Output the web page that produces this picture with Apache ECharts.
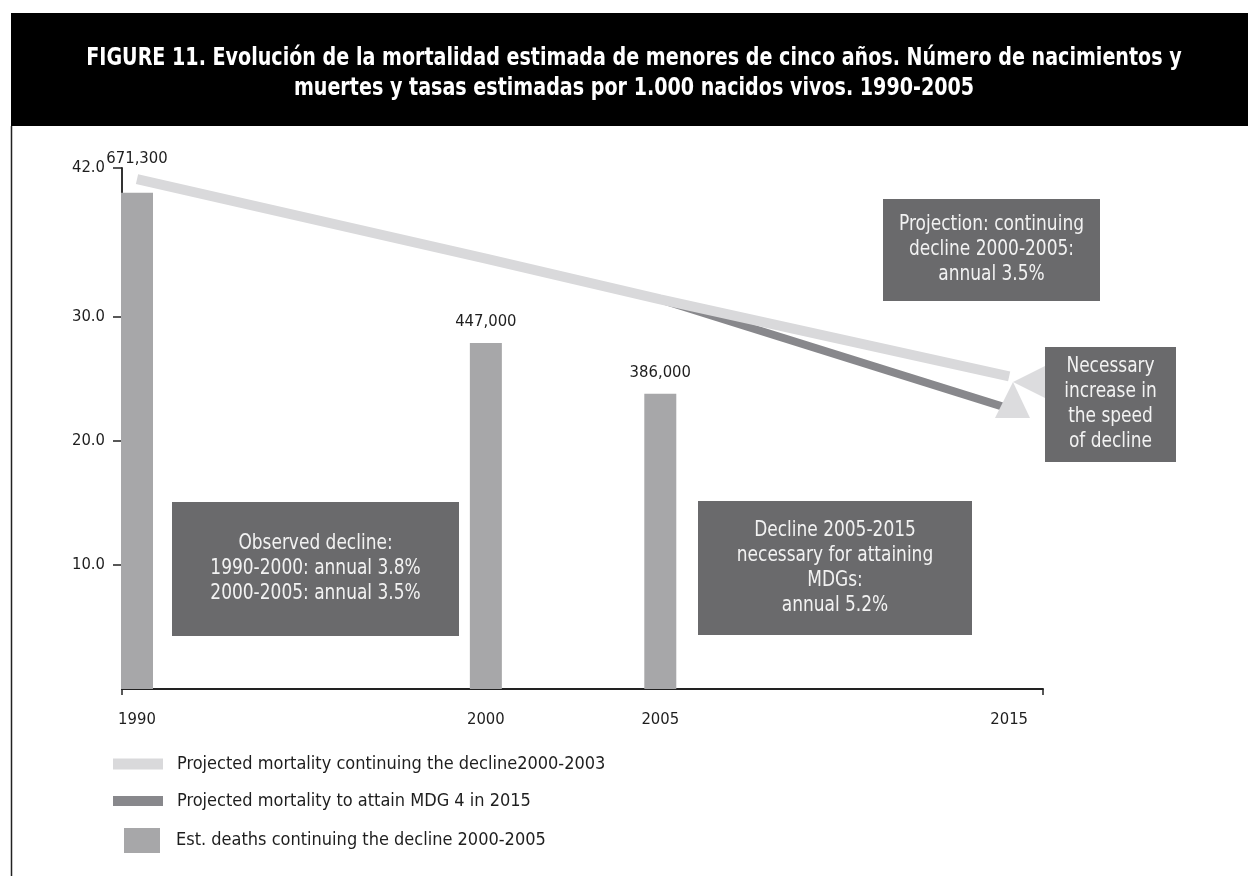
<!DOCTYPE html>
<html>
<head>
<meta charset="utf-8">
<style>html,body{margin:0;padding:0;background:#fff;}#chart{width:1248px;height:876px;}</style>
<script src="https://cdn.jsdelivr.net/npm/echarts@6/dist/echarts.min.js"></script>
</head>
<body>
<div id="chart"></div>
<script>
// ---- data ----
const barYears = [1990, 2000, 2005];
const deathRates = [40.0, 27.9, 23.8];
const deathLabels = ['671,300', '447,000', '386,000'];
const trendYears = [1990, 2000, 2005, 2015];
const continuingRates = [41.1, 34.7, 31.4, 25.2];
const mdgYears = [2005, 2015];
const mdgRates = [31.4, 22.6];
const yTickValues = [10, 20, 30, 42];
const xTickValues = [1990, 2000, 2005, 2015];
const seriesNames = [
  'Projected mortality continuing the decline2000-2003',
  'Projected mortality to attain MDG 4 in 2015',
  'Est. deaths continuing the decline 2000-2005'
];
const titleText = 'FIGURE 11. Evolución de la mortalidad estimada de menores de cinco años. Número de nacimientos y\nmuertes y tasas estimadas por 1.000 nacidos vivos. 1990-2005';
const notes = [
  'Observed decline:\n1990-2000: annual 3.8%\n2000-2005: annual 3.5%',
  'Decline 2005-2015\nnecessary for attaining\nMDGs:\nannual 5.2%',
  'Projection: continuing\ndecline 2000-2005:\nannual 3.5%',
  'Necessary\nincrease in\nthe speed\nof decline'
];

const FONT = "'Liberation Sans Narrow', 'DejaVu Sans Condensed', 'Roboto', sans-serif";
const C_LIGHT = '#d9d9db', C_DARK = '#88888c', C_BAR = '#a7a7a9', C_BOX = '#6a6a6c', C_TXT = '#1e1e1e';

const chart = echarts.init(document.getElementById('chart'), null, {renderer: 'canvas'});

function box(x, y, w, h, text) {
  return [
    {type: 'rect', shape: {x: x, y: y, width: w, height: h}, style: {fill: C_BOX}, z: 10},
    {type: 'text', z: 11, x: x + w / 2, y: y + h / 2, scaleX: 0.9,
      style: {text: text, x: 0, y: 0, align: 'center', verticalAlign: 'middle',
        fontSize: 21, fontFamily: FONT, lineHeight: 25, fill: '#f2f2f2'}}
  ];
}

const legendCommon = {orient: 'vertical', padding: 0, itemGap: 0, selectedMode: false,
  textStyle: {fontSize: 18, fontFamily: FONT, color: C_TXT}};

chart.setOption({
  animation: false,
  backgroundColor: '#fff',
  grid: {left: 122, right: 205, top: 168, bottom: 187, containLabel: false, outerBoundsMode: 'none'},
  legend: [
    Object.assign({}, legendCommon, {left: 113, top: 755, data: [{name: seriesNames[0], icon: 'rect', itemStyle: {color: C_LIGHT}}],
      itemWidth: 50, itemHeight: 11, textStyle: Object.assign({}, legendCommon.textStyle, {padding: [0, 0, 0, 9]})}),
    Object.assign({}, legendCommon, {left: 113, top: 792, data: [{name: seriesNames[1], icon: 'rect', itemStyle: {color: C_DARK}}],
      itemWidth: 50, itemHeight: 10, textStyle: Object.assign({}, legendCommon.textStyle, {padding: [0, 0, 0, 9]})}),
    Object.assign({}, legendCommon, {left: 124, top: 828, data: [{name: seriesNames[2], icon: 'rect', itemStyle: {color: C_BAR}}],
      itemWidth: 36, itemHeight: 25, textStyle: Object.assign({}, legendCommon.textStyle, {padding: [0, 0, 0, 11]})})
  ],
  xAxis: {
    type: 'value', min: 1989.57, max: 2015.97,
    axisLine: {show: true, onZero: false, lineStyle: {color: '#222', width: 2}},
    axisTick: {show: true, customValues: [1989.57, 2015.97], length: 6, lineStyle: {color: '#222', width: 1.5}},
    axisLabel: {customValues: xTickValues, formatter: v => String(Math.round(v)), margin: 22,
      fontSize: 16.5, fontFamily: FONT, color: C_TXT},
    splitLine: {show: false}
  },
  yAxis: {
    type: 'value', min: 0, max: 42,
    axisLine: {show: true, lineStyle: {color: '#333', width: 2}},
    axisTick: {show: true, customValues: yTickValues, length: 9, inside: false, lineStyle: {color: '#222', width: 1.5}},
    axisLabel: {customValues: yTickValues, formatter: v => v.toFixed(1), margin: 17,
      fontSize: 16.5, fontFamily: FONT, color: C_TXT},
    splitLine: {show: false}
  },
  series: [
    {
      name: seriesNames[2], type: 'bar', barWidth: 32, z: 2,
      itemStyle: {color: C_BAR},
      data: barYears.map((y, i) => ({value: [y, deathRates[i]],
        label: {distance: i === 0 ? 26 : 13}})),
      label: {show: true, position: 'top', fontSize: 16.5, fontFamily: FONT, color: C_TXT,
        formatter: p => deathLabels[p.dataIndex]}
    },
    {
      name: seriesNames[1], type: 'line', symbol: 'none', z: 3,
      itemStyle: {color: C_DARK},
      lineStyle: {color: C_DARK, width: 8, cap: 'butt'},
      data: mdgYears.map((y, i) => [y, mdgRates[i]])
    },
    {
      name: seriesNames[0], type: 'line', symbol: 'none', z: 4,
      itemStyle: {color: C_LIGHT},
      lineStyle: {color: C_LIGHT, width: 10, cap: 'butt'},
      data: trendYears.map((y, i) => [y, continuingRates[i]])
    }
  ],
  graphic: [
    {type: 'rect', shape: {x: 11, y: 13, width: 1237, height: 113}, style: {fill: '#000'}, z: -10},
    {type: 'text', z: 5, x: 634, y: 74, scaleX: 0.885,
      style: {text: titleText, x: 0, y: 0, align: 'center', verticalAlign: 'middle', fill: '#fff',
        fontSize: 24, fontWeight: 'bold', fontFamily: FONT, lineHeight: 30}},
    {type: 'line', shape: {x1: 11.5, y1: 126, x2: 11.5, y2: 876}, style: {stroke: '#222', lineWidth: 1.5}, z: -10},
    ...box(172, 502, 287, 134, notes[0]),
    ...box(698, 501, 274, 134, notes[1]),
    ...box(883, 199, 217, 102, notes[2]),
    ...box(1045, 347, 131, 115, notes[3]),
    {type: 'polygon', z: 9, shape: {points: [[1045, 366], [1045, 398], [1013, 382]]}, style: {fill: '#dcdcde'}},
    {type: 'polygon', z: 9, shape: {points: [[1013, 382], [995, 418], [1030, 418]]}, style: {fill: '#dcdcde'}}
  ]
});
</script>
</body>
</html>
